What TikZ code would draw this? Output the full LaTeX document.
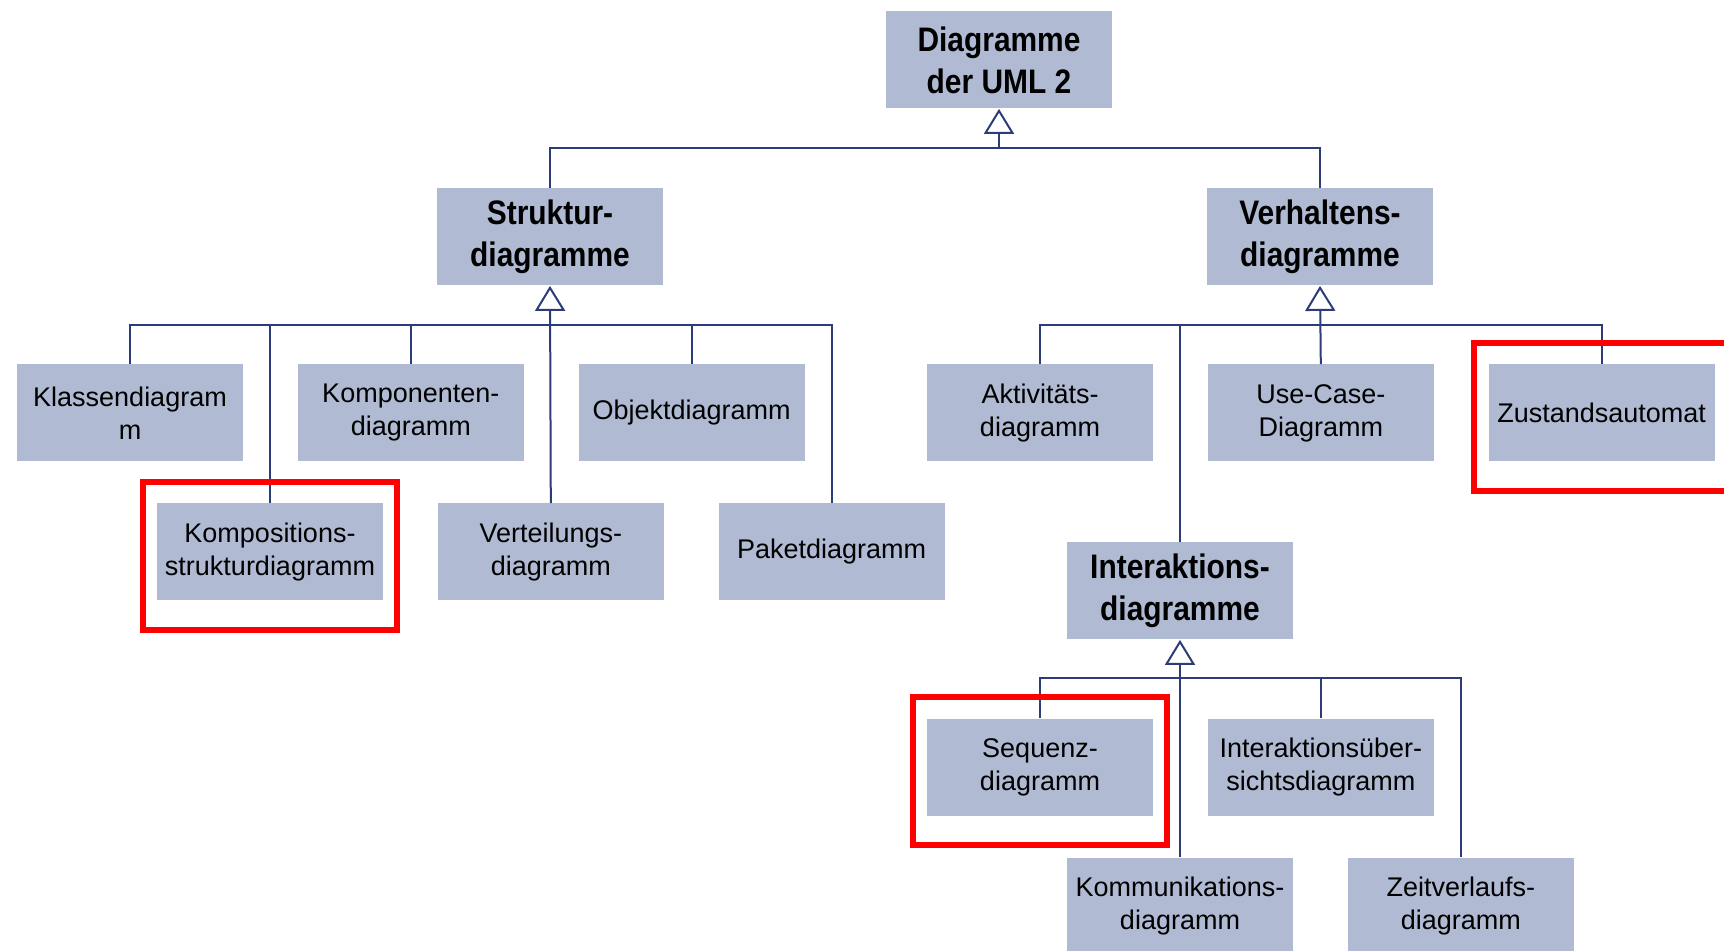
\documentclass[tikz,border=0pt]{standalone}
\usepackage{fontspec}
\setmainfont{Liberation Sans}
\newfontfamily\headfont{Liberation Sans}[FakeStretch=0.88]
\usetikzlibrary{positioning,arrows.meta,fit}
\definecolor{boxblue}{HTML}{B0BBD3}
\definecolor{lineblue}{HTML}{2C3C78}
\definecolor{markred}{HTML}{FF0000}

\begin{document}
\begin{tikzpicture}[
		x=0.5pt, y=-0.5pt
		,node distance=27pt
		,n/.style={fill=boxblue, minimum width=113pt, minimum height=48.5pt, inner sep=0pt, align=center, font=\fontsize{13.5}{16.5}\selectfont}
		,headbox/.style={n, font=\headfont\fontsize{17}{21}\selectfont\bfseries}
		,link/.style={draw=lineblue, line width=1pt}
		,gen/.style={link, -{Triangle[open, width=15pt, length=12.5pt]}}
		,hilite/.style={draw=markred, line width=3pt, inner xsep=7pt, inner ysep=12.5pt, yshift=-2pt}
	]
		\useasboundingbox (0,0) rectangle (1724,951);

		\node[headbox] (uml) at (999,60) {Diagramme\\der UML 2};
		\node[headbox] (struktur) at (550,237) {Struktur-\\diagramme};
		\node[headbox] (verhalten) at (1320,237) {Verhaltens-\\diagramme};
		\node[headbox] (interaktion) at (1180,591) {Interaktions-\\diagramme};

		% Strukturdiagramme
		\node[n] (klassen) at (130,413) {Klassendiagram\\m};
		\node[n, right=of klassen] (komponenten) {Komponenten-\\diagramm};
		\node[n, right=of komponenten] (objekt) {Objektdiagramm};
		\node[n] (komposition) at (270,552) {Kompositions-\\strukturdiagramm};
		\node[n, right=of komposition] (verteilung) {Verteilungs-\\diagramm};
		\node[n, right=of verteilung] (paket) {Paketdiagramm};

		% Verhaltensdiagramme
		\node[n] (aktivitaet) at (1040,413) {Aktivitäts-\\diagramm};
		\node[n, right=of aktivitaet] (usecase) {Use-Case-\\Diagramm};
		\node[n, right=of usecase] (zustand) {Zustandsautomat};
		\node[n] (sequenz) at (1040,767) {Sequenz-\\diagramm};
		\node[n, right=of sequenz] (uebersicht) {Interaktionsüber-\\sichtsdiagramm};
		\node[n] (kommunikation) at (1180,906) {Kommunikations-\\diagramm};
		\node[n, right=of kommunikation] (zeitverlauf) {Zeitverlaufs-\\diagramm};

		\coordinate (umlbus) at (999,148);
		\coordinate (strukturbus) at (550,325);
		\coordinate (verhaltenbus) at (1320,325);
		\coordinate (interaktionbus) at (1180,678);

		\draw[link] (struktur.north) |- (umlbus);
		\draw[link] (verhalten.north) |- (umlbus);
		\draw[gen] (umlbus) -- (uml.south);

		\foreach \c in {klassen, komposition, komponenten, objekt, paket}
			\draw[link] (\c.north) |- (strukturbus);
		\draw[gen] (verteilung.north) -- (struktur.south);

		\foreach \c in {aktivitaet, interaktion, zustand}
			\draw[link] (\c.north) |- (verhaltenbus);
		\draw[gen] (usecase.north) -- (verhalten.south);

		\foreach \c in {sequenz, uebersicht, zeitverlauf}
			\draw[link] (\c.north) |- (interaktionbus);
		\draw[gen] (kommunikation.north) -- (interaktion.south);

		\node[hilite, fit=(komposition)] (mark1) {};
		\node[hilite, fit=(zustand)] (mark2) {};
		\node[hilite, fit=(sequenz)] (mark3) {};
	\end{tikzpicture}
\end{document}
